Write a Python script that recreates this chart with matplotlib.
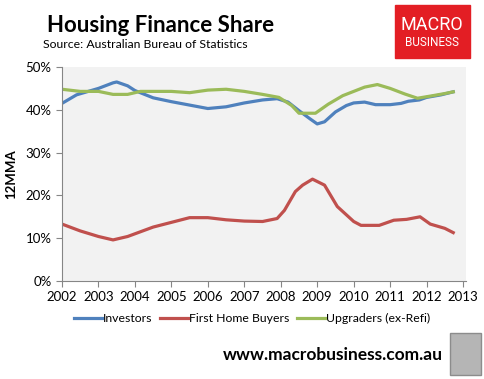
import matplotlib.pyplot as plt
from matplotlib.patches import Rectangle
from matplotlib.ticker import FuncFormatter

plt.rcParams['font.family'] = ['Lato', 'DejaVu Sans']

# dates as decimal years, shares in %
inv_dates = [2002.0, 2002.4, 2003.0, 2003.4, 2003.5, 2003.8, 2004.0, 2004.5, 2005.0, 2005.5,
             2006.0, 2006.5, 2007.0, 2007.5, 2007.9, 2008.2, 2008.5, 2008.8, 2009.0, 2009.2,
             2009.5, 2009.8, 2010.0, 2010.3, 2010.6, 2011.0, 2011.3, 2011.5, 2011.8, 2012.0,
             2012.4, 2012.73]
investors = [41.5, 43.5, 45.0, 46.3, 46.5, 45.6, 44.5, 42.8, 41.9, 41.1,
             40.3, 40.7, 41.6, 42.3, 42.6, 41.8, 39.8, 37.9, 36.7, 37.2,
             39.5, 41.0, 41.6, 41.8, 41.2, 41.2, 41.5, 42.0, 42.3, 42.9,
             43.5, 44.2]

fhb_dates = [2002.0, 2002.5, 2003.0, 2003.4, 2003.8, 2004.15, 2004.5, 2005.0, 2005.5, 2006.0,
             2006.5, 2007.0, 2007.5, 2007.9, 2008.1, 2008.4, 2008.6, 2008.87, 2009.2, 2009.55,
             2010.0, 2010.2, 2010.7, 2011.1, 2011.45, 2011.82, 2012.1, 2012.5, 2012.73]
first_home = [13.3, 11.7, 10.4, 9.6, 10.4, 11.5, 12.6, 13.7, 14.8, 14.8,
              14.3, 14.0, 13.9, 14.6, 16.5, 20.9, 22.4, 23.8, 22.4, 17.4,
              13.9, 13.0, 13.0, 14.2, 14.4, 15.0, 13.3, 12.3, 11.3]

upg_dates = [2002.0, 2002.5, 2003.0, 2003.4, 2003.8, 2004.15, 2005.0, 2005.5, 2006.0, 2006.5,
             2007.0, 2007.5, 2007.95, 2008.3, 2008.5, 2008.95, 2009.3, 2009.7, 2010.0, 2010.3,
             2010.65, 2011.0, 2011.4, 2011.75, 2012.1, 2012.5, 2012.73]
upgraders = [44.8, 44.3, 44.3, 43.6, 43.6, 44.3, 44.3, 44.0, 44.6, 44.8,
             44.3, 43.6, 42.9, 41.0, 39.2, 39.2, 41.3, 43.3, 44.3, 45.3,
             45.9, 45.0, 43.7, 42.7, 43.2, 43.8, 44.2]

years = list(range(2002, 2014))

fig = plt.figure(figsize=(4.85, 3.79), dpi=100)
ax = fig.add_axes([62 / 485, 1 - 281 / 379, 404 / 485, 214 / 379])
ax.set_facecolor('#f2f2f2')

ax.plot(inv_dates, investors, color='#4f81bd', lw=2.3, label='Investors')
ax.plot(fhb_dates, first_home, color='#c0504d', lw=2.3, label='First Home Buyers')
ax.plot(upg_dates, upgraders, color='#9bbb59', lw=2.3, label='Upgraders (ex-Refi)')

ax.set_xlim(2002, 2013.08)
ax.set_ylim(0, 50)
ax.set_xticks(years)
ax.set_yticks(range(0, 51, 10))
ax.yaxis.set_major_formatter(FuncFormatter(lambda v, p: f'{int(v)}%'))
for s in ['top', 'right']:
    ax.spines[s].set_visible(False)
for s in ['left', 'bottom']:
    ax.spines[s].set_color('#868686')
    ax.spines[s].set_linewidth(0.8)
ax.tick_params(colors='#868686', length=4, width=0.8, labelsize=9.5, labelcolor='black')
ax.set_ylabel('12MMA', fontsize=9.5, fontweight='bold')
ax.yaxis.set_label_coords(-0.112, 0.5)

ax.legend(loc='upper center', bbox_to_anchor=(0.47, -0.1), ncol=3, frameon=False,
          fontsize=8.8, handlelength=2.3, handletextpad=0.1, columnspacing=0.6)

# title block
fig.text(47 / 485, 1 - 25 / 379, 'Housing Finance Share', fontsize=16, fontweight='bold',
         va='center', ha='left')
fig.text(43 / 485, 1 - 45 / 379, 'Source: Australian Bureau of Statistics', fontsize=8.8,
         va='center', ha='left')

# logo box
fig.patches.append(Rectangle((395 / 485, 1 - 58 / 379), 75 / 485, 53 / 379,
                             transform=fig.transFigure, color='#e31e24', zorder=0))
fig.text(432 / 485, 1 - 25 / 379, 'MACRO', color='white', fontsize=13, ha='center',
         va='center', family=['Roboto', 'DejaVu Sans'], stretch='condensed')
fig.text(432 / 485, 1 - 43 / 379, 'BUSINESS', color='white', fontsize=8.5, ha='center',
         va='center', family=['Roboto', 'DejaVu Sans'])

# footer
fig.text(443 / 485, 1 - 355 / 379, 'www.macrobusiness.com.au', fontsize=12.5, fontweight='bold',
         ha='right', va='center')
fig.patches.append(Rectangle((450 / 485, 1 - 375 / 379), 31 / 485, 42 / 379,
                             transform=fig.transFigure, facecolor='#b5b5b5',
                             edgecolor='#8c8c8c', lw=1, zorder=0))

fig.savefig('out.png', dpi=100)
